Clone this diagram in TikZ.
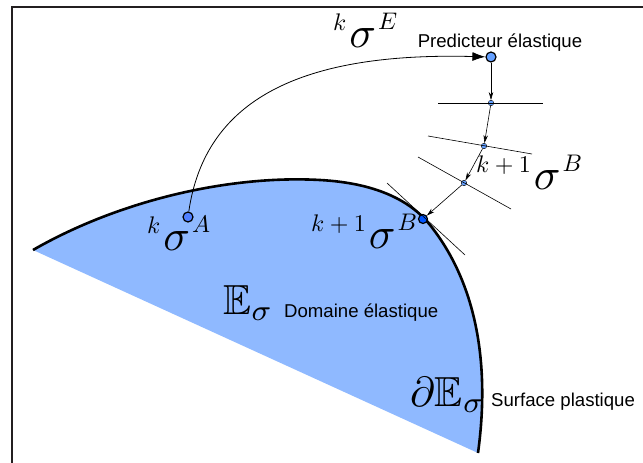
\documentclass[tikz,border=0pt]{standalone}
\usepackage{amssymb}
\usepackage{graphicx}
\usepackage{fontspec}
\setsansfont{Liberation Sans}
\usetikzlibrary{arrows.meta,calc}

\definecolor{domblue}{RGB}{143,185,255}
\definecolor{ptblue}{RGB}{100,160,255}
\definecolor{bblue}{RGB}{0,85,255}
\definecolor{framegray}{RGB}{35,31,32}

\newcommand{\siglab}[2]{\raisebox{17pt}{\scalebox{2.4}{$#1$}}\hspace{3pt}\scalebox{4.4}{$\sigma$}\hspace{2pt}\raisebox{18pt}{\scalebox{2.4}{$#2$}}}
\newcommand{\txt}{\sffamily\fontsize{18.6}{22}\selectfont}

\tikzset{
  bigpt/.style={circle,draw,fill=ptblue,inner sep=0pt,minimum size=10pt,line width=1.2pt},
  smallpt/.style={circle,draw,fill=ptblue,inner sep=0pt,minimum size=5.5pt,line width=0.4pt},
  steparrow/.style={-{Stealth[length=8pt,width=4.5pt]},line width=0.6pt},
  lab/.style={inner sep=0pt,anchor=base west}
}

\begin{document}
\begin{tikzpicture}[x=1pt,y=-1pt]
  \useasboundingbox (0,0) rectangle (643,463);
  % domaine elastique
  \fill[domblue] (33,250) .. controls (120,200) and (230,175) .. (320,180)
    .. controls (375,183) and (410,200) .. (430,225)
    .. controls (470,275) and (492,350) .. (478,453) -- cycle;
  \draw[line width=2.6pt] (33,250) .. controls (120,200) and (230,175) .. (320,180)
    .. controls (375,183) and (410,200) .. (430,225)
    .. controls (470,275) and (492,350) .. (478,453);
  % cadre
  \draw[line width=2pt,framegray] (12,463) -- (12,7) -- (643,7);

  \node[bigpt,fill=ptblue!80!blue] (A) at (188,217) {};
  \node[bigpt] (E) at (491,57) {};
  \node[smallpt] (P1) at (491,103) {};
  \node[smallpt] (P2) at (484,146) {};
  \node[smallpt] (P3) at (464,183) {};
  \node[bigpt,fill=bblue,minimum size=9pt] (B) at (423,219) {};

  % droites
  \draw[line width=0.6pt] ($(P1)+(-53,0)$) -- ($(P1)+(52,0)$);
  \draw[line width=0.6pt] ($(P2)+(-56,-10)$) -- ($(P2)+(48,8)$);
  \draw[line width=0.6pt] ($(P3)+(-46,-26)$) -- ($(P3)+(47,26)$);
  \draw[line width=0.6pt] ($(B)+(-36,-36)$) -- ($(B)+(42,36)$);

  \draw[-{Latex[length=13pt,width=9pt]},line width=0.8pt] (A) .. controls (205,100) and (300,52) .. (E);
  \draw[steparrow] (E) -- (P1);
  \draw[steparrow] (P1) -- (P2);
  \draw[steparrow] (P2) -- (P3);
  \draw[steparrow] (P3) -- (B);

  \node[lab] (sE) at (333,47) {\siglab{k}{E}};
  \node[lab] (sA) at (147,250) {\siglab{k}{A}};
  \node[lab] (sB1) at (476,189) {\siglab{k+1}{B}};
  \node[lab] (sB2) at (311,248) {\siglab{k+1}{B}};
  \node[anchor=base] (pred) at (500,47) {\txt Predicteur élastique};
  \node[lab] (dom) at (223,314) {\scalebox{4.2}{$\mathbb{E}_\sigma$}};
  \node[lab] (domt) at (284,317) {\txt Domaine élastique};
  \node[lab] (surf) at (410,406) {\scalebox{4.2}{$\partial\mathbb{E}_\sigma$}};
  \node[lab] (surft) at (491,406) {\txt Surface plastique};
\end{tikzpicture}
\end{document}
